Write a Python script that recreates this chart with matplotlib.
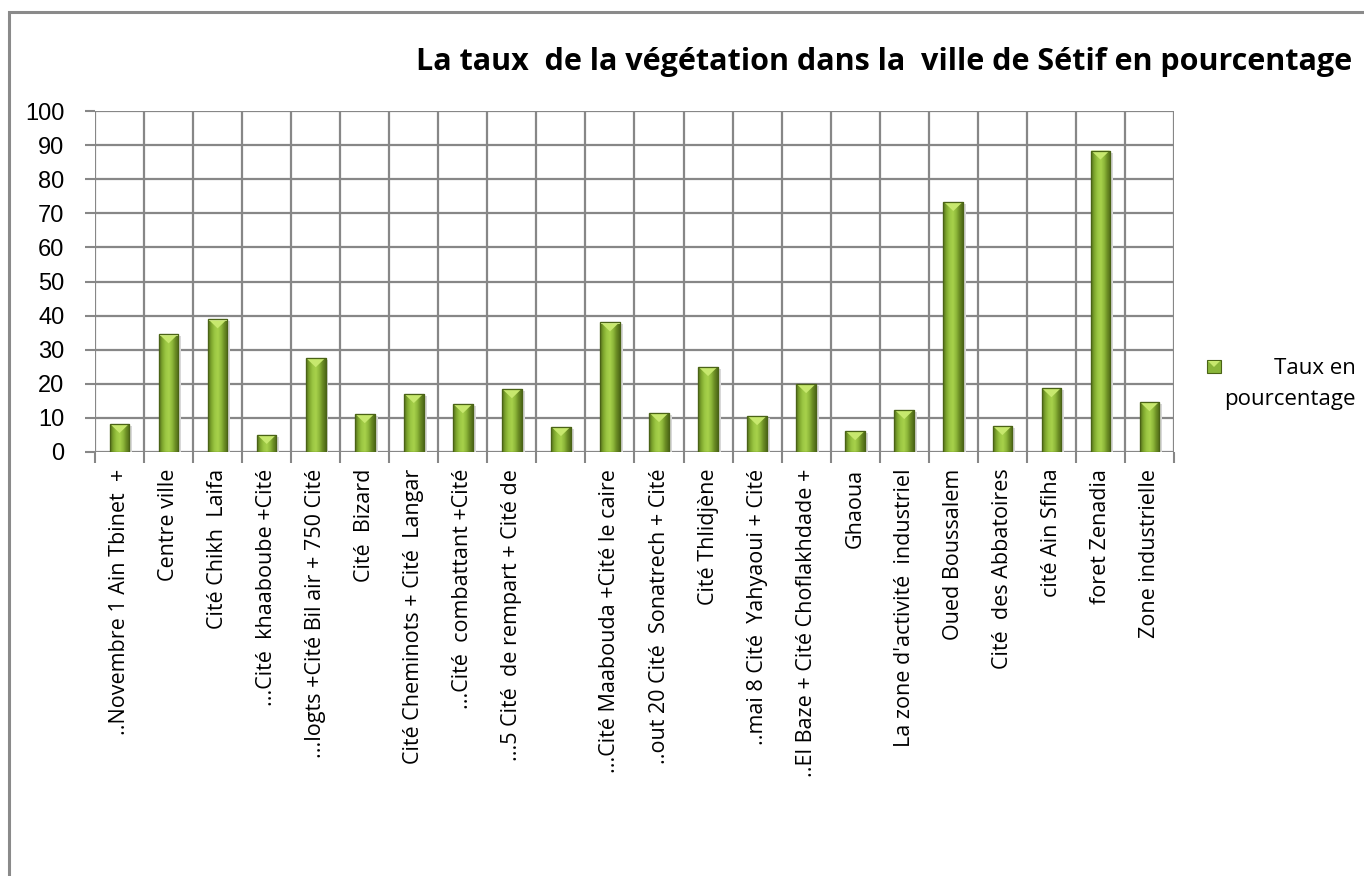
"""Bar chart: taux de la végétation dans la ville de Sétif."""

import numpy as np
import matplotlib
matplotlib.use('Agg')
import matplotlib.pyplot as plt
from matplotlib.patches import Polygon, Rectangle
from matplotlib.colors import LinearSegmentedColormap

quartiers = [
    '..Novembre 1 Ain Tbinet  +',
    'Centre ville',
    'Cité Chikh  Laifa',
    '...Cité  khaaboube +Cité',
    '...logts +Cité Bil air + 750 Cité',
    'Cité  Bizard',
    'Cité Cheminots + Cité  Langar',
    '...Cité  combattant +Cité',
    '...5 Cité  de rempart + Cité de',
    '',
    '...Cité Maabouda +Cité le caire',
    '..out 20 Cité  Sonatrech + Cité',
    'Cité Thlidjène',
    '..mai 8 Cité  Yahyaoui + Cité',
    '..El Baze + Cité Choflakhdade +',
    'Ghaoua',
    "La zone d'activité  industriel",
    'Oued Boussalem',
    'Cité  des Abbatoires',
    'cité Ain Sfiha',
    'foret Zenadia',
    'Zone industrielle',
]
taux = [8.2, 34.5, 38.9, 5.0, 27.5, 11.1, 17.0, 14.0, 18.4, 7.3, 38.0,
        11.4, 24.9, 10.5, 19.9, 6.1, 12.3, 73.3, 7.6, 18.7, 88.4, 14.6]
y_ticks = list(range(0, 101, 10))

titre = 'La taux  de la végétation dans la  ville de Sétif en pourcentage'
legende = 'Taux en\npourcentage'

grid_col = '#878787'
bar_w = 0.4

fig = plt.figure(figsize=(13.64, 8.76), dpi=100)
fig.patches.append(Rectangle((9 / 1364, -0.1), 1.2, 1.1 - 12 / 876,
                             transform=fig.transFigure, fill=False,
                             edgecolor='#8a8a8a', linewidth=2.2))

ax = fig.add_axes([95 / 1364, 1 - 452 / 876, 1079 / 1364, 341 / 876])
x = np.arange(len(taux))
ax.set_xlim(-0.5, len(taux) - 0.5)
ax.set_ylim(0, 100)

# grid
for xv in np.arange(-0.5, len(taux), 1.0):
    ax.axvline(xv, color=grid_col, lw=1.6, zorder=0.5)
for yv in y_ticks:
    ax.axhline(yv, color=grid_col, lw=1.6, zorder=0.5)
for s in ax.spines.values():
    s.set_visible(False)

# gradient bars
cmap = LinearSegmentedColormap.from_list(
    'vert', ['#55701c', '#7fa82e', '#9cc743', '#a8d24c', '#8eb83a', '#6a8c24', '#4f6a18'])
grad = np.linspace(0, 1, 64).reshape(1, -1)
bars = ax.bar(x, taux, width=bar_w, color='#8ab63a', edgecolor='#4a6316',
              linewidth=0.8, zorder=2)
px_per_unit = 341 / 100.0
for b, v in zip(bars, taux):
    x0 = b.get_x()
    x1 = x0 + b.get_width()
    # soft shadow
    ax.add_patch(Rectangle((x1, 0), 0.06, v - 0.6, facecolor='#d8d8d8',
                           edgecolor='none', zorder=1.5))
    im = ax.imshow(grad, extent=(x0, x1, 0, v), aspect='auto', cmap=cmap,
                   zorder=2.1, interpolation='bicubic')
    im.set_clip_path(b)
    h = 9.0 / px_per_unit
    xc = (x0 + x1) / 2
    tri = Polygon([(x0 + 0.01, v), (x1 - 0.01, v), (xc, v - h)], closed=True,
                  facecolor='#c7e86e', edgecolor='none', zorder=2.3)
    ax.add_patch(tri)
    ax.add_patch(Rectangle((x0, v - 0.35), b.get_width(), 0.35,
                           facecolor='#d6f08a', edgecolor='none', zorder=2.35))
    ax.add_patch(Rectangle((x0, 0), b.get_width(), v, fill=False,
                           edgecolor='#4a6316', linewidth=0.9, zorder=2.4))

ax.set_yticks(y_ticks)
ax.set_yticklabels([str(t) for t in y_ticks], fontsize=17,
                   family='Liberation Sans')
ax.tick_params(axis='y', length=7, width=1.5, color=grid_col, pad=15)

ax.set_xticks(np.arange(-0.5, len(taux), 1.0), minor=False)
ax.set_xticklabels([])
ax.tick_params(axis='x', length=8, width=1.5, color=grid_col)
ax.set_xticks(x, minor=True)
ax.set_xticklabels(quartiers, minor=True, rotation=90, fontsize=15.5,
                   family='Open Sans', va='top', ha='center')
ax.tick_params(axis='x', which='minor', length=0, pad=12)

fig.text(1352 / 1364, 1 - 62 / 876, titre, ha='right', va='center',
         fontsize=22, fontweight='bold', family='Open Sans')

# legend
ax.add_patch(Rectangle((1207 / 1364, 1 - 373 / 876), 14 / 1364, 13 / 876,
                       transform=fig.transFigure, facecolor='#8ab63a',
                       edgecolor='#4a6316', linewidth=0.8, clip_on=False))
fig.patches.append(Polygon([(1208 / 1364, 1 - 361 / 876), (1220 / 1364, 1 - 361 / 876),
                            (1214 / 1364, 1 - 367 / 876)], closed=True,
                           transform=fig.transFigure, facecolor='#c7e86e',
                           edgecolor='none', zorder=5))
fig.text(1356 / 1364, 1 - 384 / 876, legende, ha='right', va='center',
         multialignment='right', fontsize=16, family='Open Sans',
         linespacing=1.6)

fig.savefig('out.png', dpi=100)
